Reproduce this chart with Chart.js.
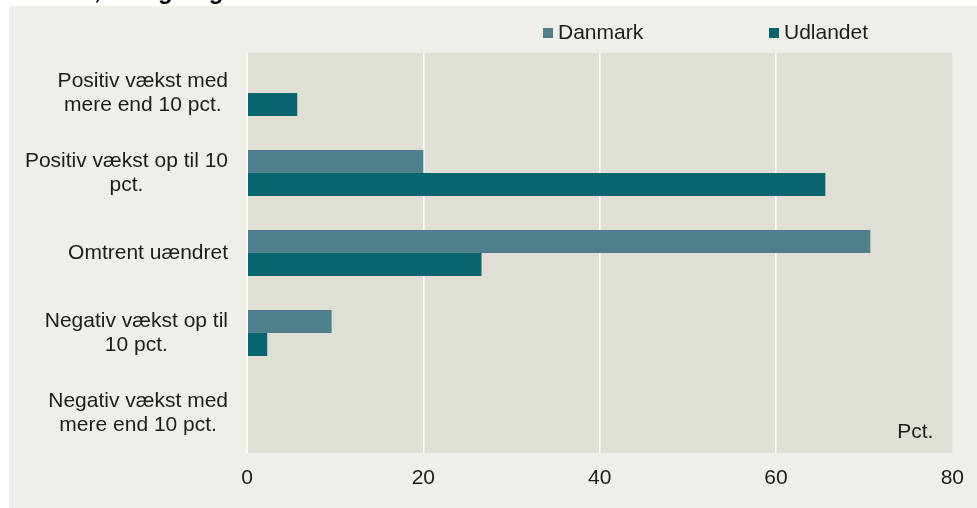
<!DOCTYPE html>
<html>
<head>
<meta charset="utf-8">
<script src="https://cdn.jsdelivr.net/npm/chart.js@4"></script>
<style>
  html, body { margin: 0; padding: 0; background: #ffffff; }
  #wrap { width: 977px; height: 508px; position: relative; }
</style>
</head>
<body>
<div id="wrap"><canvas id="growthChart"></canvas></div>
<script>
// Data
const categories = [
    ['Positiv vækst med', 'mere end 10 pct.'],
    ['Positiv vækst op til 10', 'pct.'],
    ['Omtrent uændret'],
    ['Negativ vækst op til', '10 pct.'],
    ['Negativ vækst med', 'mere end 10 pct.']
];
const danmark = [0, 20, 70.7, 9.6, 0];
const udlandet = [5.7, 65.6, 26.6, 2.3, 0];
const xTicks = [0, 20, 40, 60, 80];
const seriesNames = ['Danmark', 'Udlandet'];
const unitLabel = 'Pct.';
const titleTail = ', beregning';

const FONT = '"Liberation Sans", Arial, sans-serif';
const TEXT = '#1c1c1c';
const COL_DK = '#4f7f8c';
const COL_UD = '#08646f';

// backgrounds, cut-off title, legend, category labels, unit label
const decorPlugin = {
    id: 'decor',
    beforeDraw(chart) {
        const c = chart.ctx;
        const a = chart.chartArea;
        c.save();
        c.fillStyle = '#ffffff';
        c.fillRect(0, 0, chart.width, chart.height);
        c.fillStyle = '#efeee8';
        c.fillRect(9, 6, chart.width - 9, chart.height - 6);
        c.fillStyle = '#e0dfd5';
        c.fillRect(a.left, a.top, a.right - a.left, a.bottom - a.top);
        c.restore();
    },
    afterDraw(chart) {
        const c = chart.ctx;
        const a = chart.chartArea;
        const y = chart.scales.y;
        c.save();
        // title, mostly cut off above the picture
        c.fillStyle = '#000';
        c.font = 'bold 24px ' + FONT;
        c.textBaseline = 'alphabetic';
        c.textAlign = 'left';
        c.fillText(titleTail, 94, -1);

        // legend
        c.font = '21px ' + FONT;
        c.textBaseline = 'middle';
        const legendX = [543, 769];
        const legendCol = [COL_DK, COL_UD];
        seriesNames.forEach((name, i) => {
            c.fillStyle = legendCol[i];
            c.fillRect(legendX[i], 28, 10, 10);
            c.fillStyle = TEXT;
            c.fillText(name, legendX[i] + 15, 33);
        });

        // category labels: block right aligned, lines centred in block
        const lineH = 24;
        const rightEdge = 228;
        categories.forEach((lines, i) => {
            const cy = y.getPixelForTick(i);
            let w = 0;
            lines.forEach(l => { w = Math.max(w, c.measureText(l).width); });
            const cx = rightEdge - w / 2;
            c.textAlign = 'center';
            lines.forEach((l, j) => {
                const ly = cy + (j - (lines.length - 1) / 2) * lineH;
                c.fillText(l, cx, ly);
            });
        });

        // unit label
        c.textAlign = 'right';
        c.fillText(unitLabel, a.right - 19, a.bottom - 21);
        c.restore();
    }
};

const ctx = document.getElementById('growthChart').getContext('2d');
const growthChart = new Chart(ctx, {
    type: 'bar',
    data: {
        labels: categories,
        datasets: [{
            label: seriesNames[0],
            data: danmark,
            backgroundColor: COL_DK
        }, {
            label: seriesNames[1],
            data: udlandet,
            backgroundColor: COL_UD
        }]
    },
    options: {
        indexAxis: 'y',
        responsive: true,
        maintainAspectRatio: false,
        animation: false,
        datasets: {
            bar: { categoryPercentage: 0.575, barPercentage: 1 }
        },
        layout: { padding: { left: 0, right: 23, top: 53, bottom: 0 } },
        plugins: {
            legend: { display: false },
            tooltip: { enabled: false }
        },
        scales: {
            x: {
                min: 0,
                max: 80,
                afterBuildTicks(scale) {
                    scale.ticks = xTicks.map(v => ({ value: v }));
                },
                afterFit(scale) { scale.height = 55; },
                border: { display: false },
                grid: {
                    drawTicks: false,
                    color: c => (c.tick && c.tick.value === 80) ? 'rgba(0,0,0,0)' : '#ffffff',
                    lineWidth: c => (c.tick && c.tick.value === 0) ? 2 : 1.5
                },
                ticks: {
                    padding: 13,
                    color: TEXT,
                    font: { family: FONT, size: 21 }
                }
            },
            y: {
                afterFit(scale) { scale.width = 247; },
                border: { display: false },
                grid: { display: false },
                ticks: { display: false }
            }
        }
    },
    plugins: [decorPlugin]
});
</script>
</body>
</html>
